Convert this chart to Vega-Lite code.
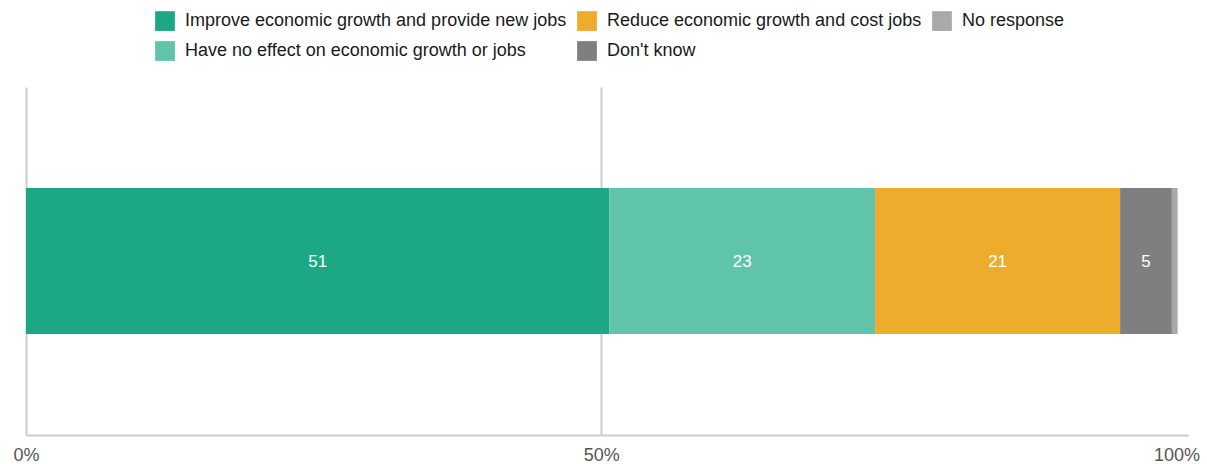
{
  "$schema": "https://vega.github.io/schema/vega-lite/v6.json",
  "width": 1162,
  "height": 348,
  "autosize": {"type": "none"},
  "padding": {"left": 26, "top": 87, "right": 19, "bottom": 29},
  "background": "white",
  "config": {
    "view": {"stroke": null},
    "font": "Liberation Sans"
  },
  "data": {
    "values": [
      {"question": "Q", "response": "Improve economic growth and provide new jobs", "value": 50.7, "label": "51", "rank": 1},
      {"question": "Q", "response": "Have no effect on economic growth or jobs", "value": 23.1, "label": "23", "rank": 2},
      {"question": "Q", "response": "Reduce economic growth and cost jobs", "value": 21.3, "label": "21", "rank": 3},
      {"question": "Q", "response": "Don't know", "value": 4.5, "label": "5", "rank": 4},
      {"question": "Q", "response": "No response", "value": 0.5, "label": "", "rank": 5}
    ]
  },
  "transform": [
    {"stack": "value", "groupby": ["question"], "sort": [{"field": "rank", "order": "ascending"}], "as": ["v0", "v1"]},
    {"calculate": "(datum.v0 + datum.v1) / 2", "as": "mid"}
  ],
  "encoding": {
    "y": {
      "field": "question",
      "type": "nominal",
      "axis": null,
      "scale": {"paddingInner": 0, "paddingOuter": 0.692}
    }
  },
  "layer": [
    {
      "mark": {"type": "bar"},
      "encoding": {
        "x": {
          "field": "v0",
          "type": "quantitative",
          "scale": {"domain": [0, 101], "nice": false, "zero": true},
          "axis": {
            "values": [0, 50, 100],
            "format": ".0f",
            "labelExpr": "datum.label + '%'",
            "title": null,
            "ticks": false,
            "grid": true,
            "gridColor": "#cccccc",
            "gridWidth": 2,
            "gridOpacity": {"condition": {"test": "datum.value === 100", "value": 0}, "value": 1},
            "domainColor": "#cccccc",
            "domainWidth": 2,
            "labelFlush": false,
            "labelFontSize": 18,
            "labelColor": "#555555",
            "labelPadding": 11,
            "labelFont": "Liberation Sans"
          }
        },
        "x2": {"field": "v1"},
        "color": {
          "field": "response",
          "type": "nominal",
          "scale": {
            "domain": [
              "Improve economic growth and provide new jobs",
              "Reduce economic growth and cost jobs",
              "No response",
              "Have no effect on economic growth or jobs",
              "Don't know"
            ],
            "range": ["#1ca884", "#eeac2d", "#a9a9a9", "#5fc4aa", "#7f7f7f"]
          },
          "legend": {
            "orient": "none",
            "legendX": 129,
            "legendY": -76,
            "direction": "horizontal",
            "columns": 3,
            "title": null,
            "symbolType": "square",
            "symbolSize": 390,
            "symbolStrokeWidth": 0,
            "symbolOpacity": 1,
            "labelFontSize": 18,
            "labelFont": "Liberation Sans",
            "labelColor": "#1a1a1a",
            "labelOffset": 10,
            "labelLimit": 500,
            "columnPadding": 10,
            "rowPadding": 10,
            "padding": 0
          }
        }
      }
    },
    {
      "mark": {"type": "text", "color": "white", "fontSize": 17, "font": "Liberation Sans", "dy": 1},
      "encoding": {
        "x": {"field": "mid", "type": "quantitative"},
        "text": {"field": "label", "type": "nominal"}
      }
    }
  ]
}
